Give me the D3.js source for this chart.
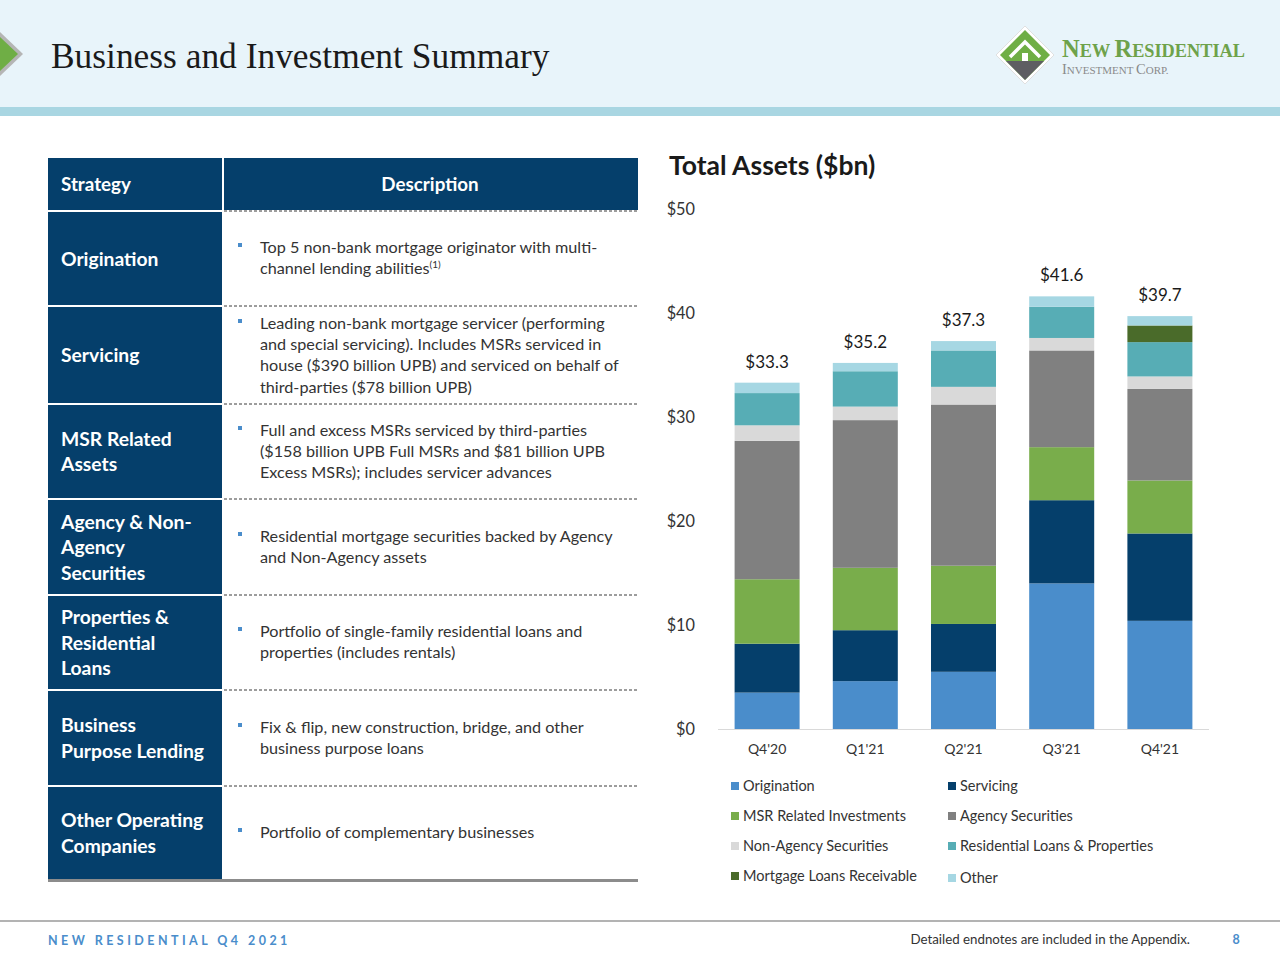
<!DOCTYPE html>
<html>
<head>
<meta charset="utf-8">
<script src="https://cdn.jsdelivr.net/npm/d3@7"></script>
<style>
  html, body { margin: 0; padding: 0; background: #ffffff; }
  svg { display: block; }
</style>
</head>
<body>
<svg id="chart" width="1280" height="960"></svg>
<script>
// ---------------- DATA ----------------
const quarters = ["Q4'20", "Q1'21", "Q2'21", "Q3'21", "Q4'21"];
const seriesNames = ["Origination", "Servicing", "MSR Related Investments", "Agency Securities",
  "Non-Agency Securities", "Residential Loans & Properties", "Mortgage Loans Receivable", "Other"];
const origination   = [3.5, 4.6, 5.5, 14.0, 10.4];
const servicing     = [4.7, 4.9, 4.6, 8.0, 8.4];
const msrRelated    = [6.2, 6.0, 5.6, 5.1, 5.1];
const agencySec     = [13.3, 14.2, 15.5, 9.3, 8.8];
const nonAgencySec  = [1.5, 1.3, 1.7, 1.2, 1.2];
const resLoans      = [3.1, 3.4, 3.5, 3.0, 3.3];
const mortgageRecv  = [0, 0, 0, 0, 1.6];
const other         = [1.0, 0.8, 0.9, 1.0, 0.9];
const totalLabels   = ["$33.3", "$35.2", "$37.3", "$41.6", "$39.7"];
const totals        = [33.3, 35.2, 37.3, 41.6, 39.7];
const yTicks        = [0, 10, 20, 30, 40, 50];

const strategies = [
  ["Origination"],
  ["Servicing"],
  ["MSR Related", "Assets"],
  ["Agency & Non-", "Agency", "Securities"],
  ["Properties &", "Residential", "Loans"],
  ["Business", "Purpose Lending"],
  ["Other Operating", "Companies"]
];
const descriptions = [
  ["Top 5 non-bank mortgage originator with multi-", "channel lending abilities"],
  ["Leading non-bank mortgage servicer (performing", "and special servicing). Includes MSRs serviced in", "house ($390 billion UPB) and serviced on behalf of", "third-parties ($78 billion UPB)"],
  ["Full and excess MSRs serviced by third-parties", "($158 billion UPB Full MSRs and $81 billion UPB", "Excess MSRs); includes servicer advances"],
  ["Residential mortgage securities backed by Agency", "and Non-Agency assets"],
  ["Portfolio of single-family residential loans and", "properties (includes rentals)"],
  ["Fix & flip, new construction, bridge, and other", "business purpose loans"],
  ["Portfolio of complementary businesses"]
];

// ---------------- STYLE ----------------
const colors = ["#4a8dcb", "#053f6b", "#79ad4b", "#808080", "#d9d9d9", "#57adb5", "#4a6b2a", "#a6d7e3"];
const navy = "#053f6b";
const sans = "Lato, 'Open Sans', sans-serif";

const svg = d3.select("#chart");

// ---------------- HEADER ----------------
svg.append("rect").attr("x", 0).attr("y", 0).attr("width", 1280).attr("height", 108).attr("fill", "#e8f4fa");
svg.append("rect").attr("x", 0).attr("y", 107).attr("width", 1280).attr("height", 9).attr("fill", "#a9d6e2");

// left arrow diamond
svg.append("polygon")
  .attr("points", "-2,30 23,54 -2,78 -27,54")
  .attr("fill", "#b5b5b5");
svg.append("polygon")
  .attr("points", "-2,35 18,54 -2,73 -22,54")
  .attr("fill", "#6fae45");

svg.append("text")
  .attr("x", 51).attr("y", 68)
  .attr("font-family", "'Liberation Serif', 'DejaVu Serif', serif")
  .attr("font-size", 35.4)
  .attr("fill", "#1a1a1a")
  .text("Business and Investment Summary");

// logo
const logo = svg.append("g").attr("transform", "translate(1025,55)");
logo.append("polygon").attr("points", "0,-29 29,0 0,29 -29,0").attr("fill", "#ffffff").attr("stroke", "#e0e0e0").attr("stroke-width", 1);
logo.append("polygon").attr("points", "0,-25 25,0 -25,0").attr("fill", "#6fae45");
logo.append("polygon").attr("points", "-25,0 25,0 0,25").attr("fill", "#6fae45");
logo.append("polygon").attr("points", "-19,6 19,6 0,25").attr("fill", "#5e5e62");
logo.append("polyline").attr("points", "-15,2 0,-13 15,2").attr("fill", "none").attr("stroke", "#ffffff").attr("stroke-width", 3.5);
logo.append("rect").attr("x", -3).attr("y", -2).attr("width", 6).attr("height", 8).attr("fill", "#ffffff");

const lt = svg.append("text").attr("x", 1062).attr("y", 57)
  .attr("font-family", "'Liberation Serif', serif").attr("fill", "#6ea24a").attr("font-weight", "bold");
[["N", 24.5], ["EW ", 18.3], ["R", 24.5], ["ESIDENTIAL", 18.3]].forEach(([t, s]) => lt.append("tspan").attr("font-size", s).text(t));
const lt2 = svg.append("text").attr("x", 1062).attr("y", 74)
  .attr("font-family", "'Liberation Serif', serif").attr("fill", "#8a8a8a");
[["I", 14.5], ["NVESTMENT ", 11], ["C", 14.5], ["ORP.", 11]].forEach(([t, s]) => lt2.append("tspan").attr("font-size", s).text(t));

// ---------------- TABLE ----------------
const tblX = 48, splitX = 222, tblR = 638;
svg.append("rect").attr("x", tblX).attr("y", 158).attr("width", splitX - tblX).attr("height", 52).attr("fill", navy);
svg.append("rect").attr("x", splitX + 2).attr("y", 158).attr("width", tblR - splitX - 2).attr("height", 52).attr("fill", navy);
svg.append("text").attr("x", 61).attr("y", 191).attr("font-family", sans).attr("font-weight", "bold")
  .attr("font-size", 18.8).attr("fill", "#ffffff").text("Strategy");
svg.append("text").attr("x", 430).attr("y", 191).attr("text-anchor", "middle").attr("font-family", sans).attr("font-weight", "bold")
  .attr("font-size", 18.8).attr("fill", "#ffffff").text("Description");

const rowTops = [212, 307, 405, 500, 596, 691, 787];
const rowBots = [305, 403, 498, 594, 689, 785, 879];
const descY = [253, 329, 436, 542, 637, 733, 838];

strategies.forEach((lines, i) => {
  const top = rowTops[i], bot = rowBots[i];
  svg.append("rect").attr("x", tblX).attr("y", top).attr("width", splitX - tblX).attr("height", bot - top).attr("fill", navy);
  const mid = (top + bot) / 2;
  const lh = 25.5;
  const t = svg.append("text").attr("font-family", sans).attr("font-weight", "bold").attr("font-size", 19.3).attr("fill", "#ffffff");
  lines.forEach((ln, j) => {
    t.append("tspan").attr("x", 61).attr("y", mid + 7 + (j - (lines.length - 1) / 2) * lh).text(ln);
  });
  // description
  const dl = descriptions[i];
  const dlh = 21.2;
  const yy = descY[i];
  svg.append("rect").attr("x", 238).attr("y", yy - 10).attr("width", 4).attr("height", 4).attr("fill", "#4a8dcb");
  const dt = svg.append("text").attr("font-family", sans).attr("font-size", 16.2).attr("fill", "#333333");
  dl.forEach((ln, j) => {
    dt.append("tspan").attr("x", 260).attr("y", yy + j * dlh).text(ln);
  });
  if (i === 0) {
    dt.append("tspan").attr("dy", -6).attr("font-size", 10).text("(1)");
  }
  if (i < strategies.length - 1) {
    svg.append("line").attr("x1", splitX + 2).attr("x2", tblR).attr("y1", bot + 1).attr("y2", bot + 1)
      .attr("stroke", "#3a3a3a").attr("stroke-width", 1).attr("stroke-dasharray", "3,2");
  }
});
svg.append("line").attr("x1", splitX + 2).attr("x2", tblR).attr("y1", 211).attr("y2", 211)
  .attr("stroke", "#3a3a3a").attr("stroke-width", 1).attr("stroke-dasharray", "3,2");
svg.append("rect").attr("x", tblX).attr("y", 879).attr("width", tblR - tblX).attr("height", 3).attr("fill", "#8c8c8c");

// ---------------- CHART ----------------
svg.append("text").attr("x", 669).attr("y", 175).attr("font-family", sans).attr("font-weight", "bold")
  .attr("font-size", 26.5).attr("fill", "#1a1a1a").text("Total Assets ($bn)");

const x = d3.scaleBand().domain(quarters).range([718, 1209]).paddingInner(0.338).paddingOuter(0.169);
const y = d3.scaleLinear().domain([0, 50]).range([729, 209]);

const seriesArrays = [origination, servicing, msrRelated, agencySec, nonAgencySec, resLoans, mortgageRecv, other];
const rows = quarters.map((q, i) => {
  const o = { q };
  seriesNames.forEach((s, k) => o[s] = seriesArrays[k][i]);
  return o;
});
const stacked = d3.stack().keys(seriesNames)(rows);

const gBars = svg.append("g");
stacked.forEach((layer, k) => {
  gBars.selectAll(null).data(layer).enter().append("rect")
    .attr("x", d => x(d.data.q))
    .attr("width", x.bandwidth())
    .attr("y", d => y(d[1]))
    .attr("height", d => Math.max(0, y(d[0]) - y(d[1])))
    .attr("fill", colors[k]);
});

// axis line
svg.append("line").attr("x1", 718).attr("x2", 1209).attr("y1", y(0) + 0.5).attr("y2", y(0) + 0.5)
  .attr("stroke", "#d9d9d9").attr("stroke-width", 1.2);

// y axis
const yAxis = d3.axisLeft(y).tickValues(yTicks).tickFormat(d => "$" + d).tickSize(0).tickPadding(0);
const gy = svg.append("g").attr("transform", "translate(695,0)").call(yAxis);
gy.select(".domain").remove();
gy.selectAll("text").attr("font-family", sans).attr("font-size", 16.3).attr("fill", "#333333").attr("dy", "0.35em");

// x axis
const xAxis = d3.axisBottom(x).tickSize(0).tickPadding(0);
const gx = svg.append("g").attr("transform", "translate(0,744)").call(xAxis);
gx.select(".domain").remove();
gx.selectAll("text").attr("font-family", sans).attr("font-size", 14).attr("fill", "#333333").attr("dy", "0.7em");

// totals
svg.selectAll(null).data(quarters).enter().append("text")
  .attr("x", d => x(d) + x.bandwidth() / 2)
  .attr("y", (d, i) => y(totals[i]) - 15)
  .attr("text-anchor", "middle")
  .attr("font-family", sans).attr("font-size", 17).attr("fill", "#1a1a1a")
  .text((d, i) => totalLabels[i]);

// legend
const legX = [731, 948];
const legY = [786, 816, 846, 876];
seriesNames.forEach((s, k) => {
  const lx = legX[k % 2], ly = legY[Math.floor(k / 2)] + (k === 7 ? 2 : 0);
  svg.append("rect").attr("x", lx).attr("y", ly - 4).attr("width", 8).attr("height", 8).attr("fill", colors[k]);
  svg.append("text").attr("x", lx + 12).attr("y", ly + 5).attr("font-family", sans).attr("font-size", 14.5)
    .attr("fill", "#333333").text(s);
});

// ---------------- FOOTER ----------------
svg.append("line").attr("x1", 0).attr("x2", 1280).attr("y1", 921).attr("y2", 921).attr("stroke", "#9a9a9a").attr("stroke-width", 1.5);
svg.append("text").attr("x", 48).attr("y", 945).attr("font-family", sans).attr("font-weight", "bold")
  .attr("font-size", 12.5).attr("letter-spacing", 3.45).attr("fill", "#4a8dcb").text("NEW RESIDENTIAL Q4 2021");
svg.append("text").attr("x", 1190).attr("y", 944).attr("text-anchor", "end").attr("font-family", sans)
  .attr("font-size", 13.3).attr("fill", "#333333").text("Detailed endnotes are included in the Appendix.");
svg.append("text").attr("x", 1236).attr("y", 944).attr("text-anchor", "middle").attr("font-family", sans).attr("font-weight", "bold")
  .attr("font-size", 12.5).attr("fill", "#4a8dcb").text("8");
</script>
</body>
</html>
